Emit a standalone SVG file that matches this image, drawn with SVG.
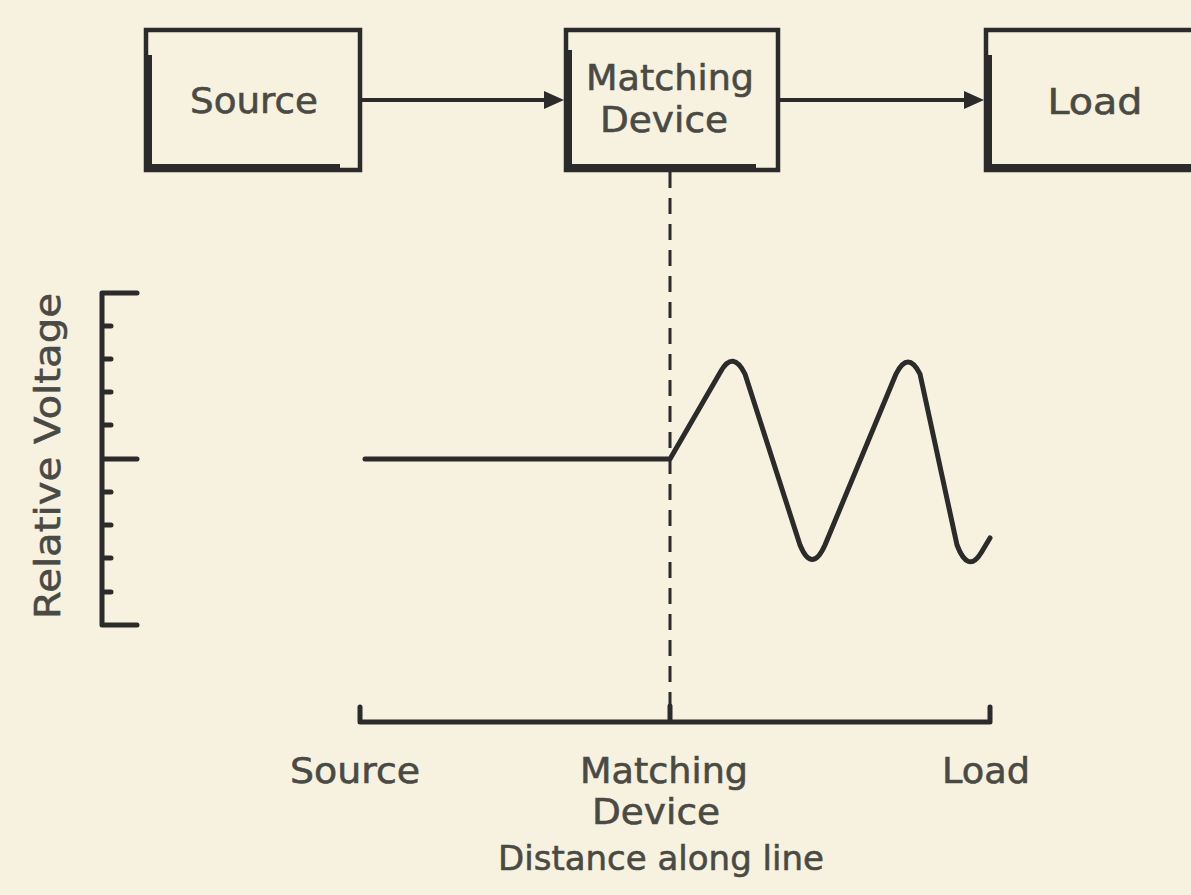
<svg xmlns="http://www.w3.org/2000/svg" width="1191" height="895" viewBox="0 0 1191 895">
<style>
.bg{fill:#f6f2df}
.box{fill:none;stroke:#2b2b2b;stroke-width:4.5}
.shadow{stroke:#2b2b2b;stroke-width:8;fill:none}
.ln{stroke:#2b2b2b;stroke-width:4;fill:none}
.thick{stroke:#2b2b2b;stroke-width:5;fill:none;stroke-linejoin:round;stroke-linecap:round}
.dash{stroke:#2b2b2b;stroke-width:3;fill:none;stroke-dasharray:16 10}
.t{font-family:"DejaVu Sans",sans-serif;font-size:36px;fill:#4a4a45;stroke:#4a4a45;stroke-width:0.6;text-anchor:middle}
</style>
<rect class="bg" x="0" y="0" width="1191" height="895"/>
<g id="source">
<rect class="box" x="146" y="30" width="214" height="140"/>
<path class="shadow" d="M148,55 V168 H340"/>
<text class="t" x="254" y="113" textLength="128" lengthAdjust="spacingAndGlyphs">Source</text>
</g>
<g id="matching">
<rect class="box" x="566" y="30" width="212" height="140"/>
<path class="shadow" d="M568,50 V168 H756"/>
<text class="t" x="670" y="90" textLength="168" lengthAdjust="spacingAndGlyphs">Matching</text>
<text class="t" x="664" y="132" textLength="128" lengthAdjust="spacingAndGlyphs">Device</text>
</g>
<g id="load">
<rect class="box" x="986" y="30" width="240" height="140"/>
<path class="shadow" d="M988,55 V168 H1191"/>
<text class="t" x="1095" y="114" textLength="95" lengthAdjust="spacingAndGlyphs">Load</text>
</g>
<g id="connectors">
<line class="ln" x1="362" y1="100" x2="548" y2="100"/>
<polygon points="544,91 564,100 544,109" fill="#2b2b2b"/>
<line class="ln" x1="780" y1="100" x2="968" y2="100"/>
<polygon points="964,91 984,100 964,109" fill="#2b2b2b"/>
<line class="dash" x1="670" y1="172" x2="670" y2="712"/>
</g>
<g id="y-axis">
<path class="thick" d="M137,293 H102 V625 H137 M102,459 H137 M102,326 H111 M102,359 H111 M102,392 H111 M102,425 H111 M102,492 H111 M102,525 H111 M102,558 H111 M102,592 H111"/>
<text class="t" transform="translate(60,456) rotate(-90)" textLength="326" lengthAdjust="spacingAndGlyphs">Relative Voltage</text>
</g>
<g id="waveform">
<path class="thick" d="M365,459 L670,459 L721,371 Q733,350 745,374 L800,545 Q812,574 825,545 L896,374 Q908,350 920,374 L957,545 Q968,574 981,553 Q987,543 990,538"/>
</g>
<g id="x-axis">
<path class="thick" d="M360,707 V722 H990 V707 M670,722 V706"/>
<text class="t" x="355" y="783" textLength="130" lengthAdjust="spacingAndGlyphs">Source</text>
<text class="t" x="664" y="783" textLength="168" lengthAdjust="spacingAndGlyphs">Matching</text>
<text class="t" x="656" y="824" textLength="128" lengthAdjust="spacingAndGlyphs">Device</text>
<text class="t" x="986" y="783" textLength="88" lengthAdjust="spacingAndGlyphs">Load</text>
<text class="t" x="661" y="870" style="font-size:34px">Distance along line</text>
</g>
</svg>
